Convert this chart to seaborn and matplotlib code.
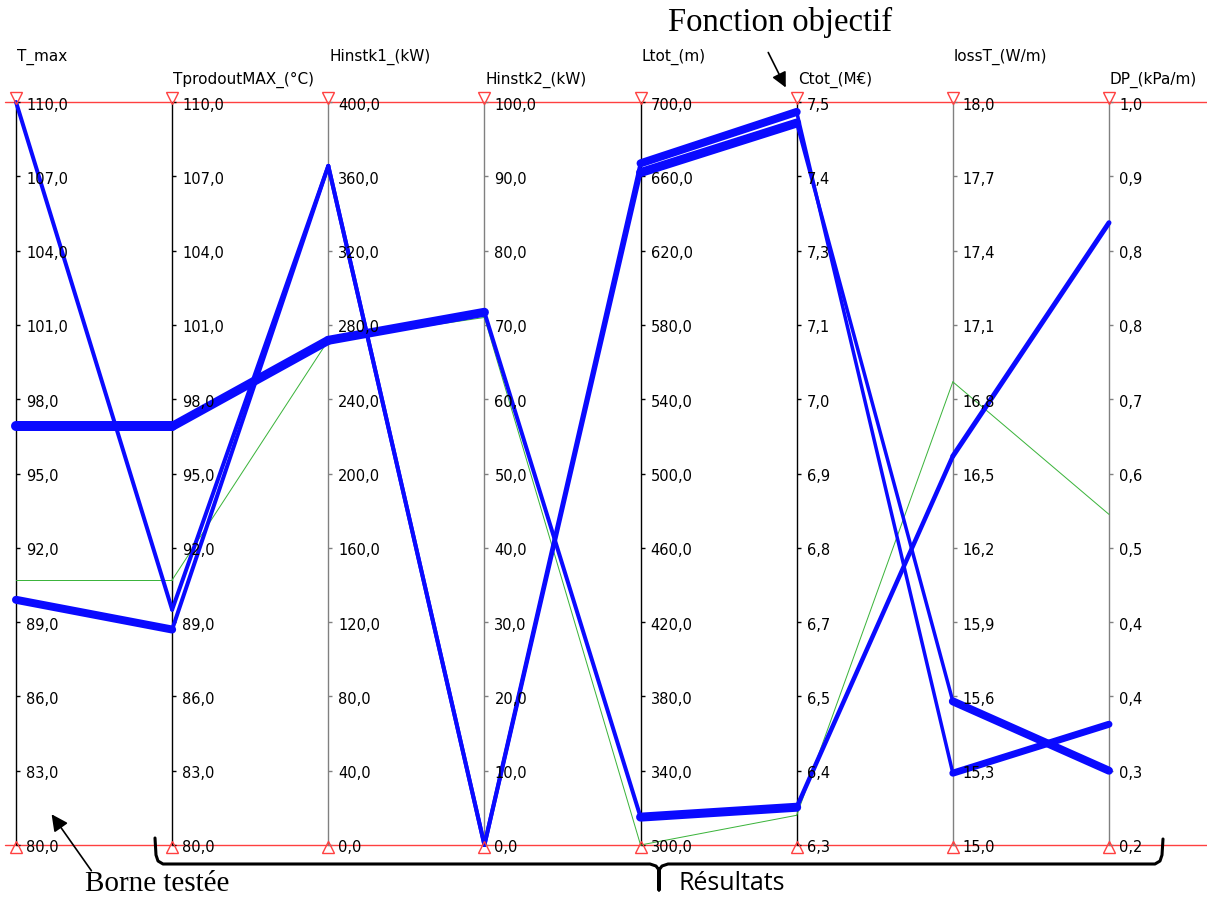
import numpy as np
import matplotlib
matplotlib.use("Agg")
import matplotlib.pyplot as plt
import seaborn as sns

sns.set_style("white")
plt.rcParams['font.family'] = ['DejaVu Sans']
plt.rcParams['text.color'] = 'black'

# axes of the parallel plot
axis_names = ["T_max", "TprodoutMAX_(°C)", "Hinstk1_(kW)", "Hinstk2_(kW)",
              "Ltot_(m)", "Ctot_(M€)", "lossT_(W/m)", "DP_(kPa/m)"]
axis_min = [80.0, 80.0, 0.0, 0.0, 300.0, 6.3, 15.0, 0.2]
axis_max = [110.0, 110.0, 400.0, 100.0, 700.0, 7.5, 18.0, 1.0]

# tick labels, top to bottom
ticks_tmax = ["110,0", "107,0", "104,0", "101,0", "98,0", "95,0", "92,0", "89,0", "86,0", "83,0", "80,0"]
ticks_tprod = ["110,0", "107,0", "104,0", "101,0", "98,0", "95,0", "92,0", "89,0", "86,0", "83,0", "80,0"]
ticks_h1 = ["400,0", "360,0", "320,0", "280,0", "240,0", "200,0", "160,0", "120,0", "80,0", "40,0", "0,0"]
ticks_h2 = ["100,0", "90,0", "80,0", "70,0", "60,0", "50,0", "40,0", "30,0", "20,0", "10,0", "0,0"]
ticks_ltot = ["700,0", "660,0", "620,0", "580,0", "540,0", "500,0", "460,0", "420,0", "380,0", "340,0", "300,0"]
ticks_ctot = ["7,5", "7,4", "7,3", "7,1", "7,0", "6,9", "6,8", "6,7", "6,5", "6,4", "6,3"]
ticks_loss = ["18,0", "17,7", "17,4", "17,1", "16,8", "16,5", "16,2", "15,9", "15,6", "15,3", "15,0"]
ticks_dp = ["1,0", "0,9", "0,8", "0,8", "0,7", "0,6", "0,5", "0,4", "0,4", "0,3", "0,2"]
tick_labels = [ticks_tmax, ticks_tprod, ticks_h1, ticks_h2, ticks_ltot, ticks_ctot, ticks_loss, ticks_dp]

# designs (one value per axis)
design_a = [110.0, 89.5, 365.6, 0.0, 667.0, 7.484, 15.29, 0.33]
design_b = [96.9, 96.9, 271.7, 71.7, 315.0, 6.361, 16.57, 0.87]
design_c = [89.9, 88.7, 365.6, 0.0, 662.0, 7.466, 15.58, 0.28]
design_g = [90.7, 90.7, 271.7, 71.0, 300.0, 6.348, 16.87, 0.556]

# apparent stroke width of each segment (px)
width_a = [4, 4, 4, 4, 8, 3.5, 7]
width_b = [10, 9, 9, 4, 9, 4.5, 5]
width_c = [8, 4, 4, 4, 9, 3.5, 8]
width_g = [1, 1, 1, 1, 1, 1, 1]

axis_colors = ["black", "black", "#808080", "#808080", "black", "black", "#808080", "#808080"]
BLUE = "#0a0aff"
GREEN = "#3cb43c"
RED = "#ff4040"

W, H = 1207, 899
X0, XU = 16, 156.14      # px of first axis, px between axes
YT, YB = 102, 845        # px of top / bottom of axes
YU = YB - YT

fig = plt.figure(figsize=(W / 100, H / 100), dpi=100)
ax = fig.add_axes([0, 0, 1, 1])
ax.set_xlim(-X0 / XU, (W - X0) / XU)
ax.set_ylim(-(H - YB) / YU, 1 + YT / YU)
ax.set_axis_off()


def norm(vals):
    return [(v - lo) / (hi - lo) for v, lo, hi in zip(vals, axis_min, axis_max)]


n = len(axis_names)

# red bounds
ax.axhline(1, xmin=5 / W, xmax=1, color=RED, lw=1, zorder=1)
ax.axhline(0, xmin=5 / W, xmax=1, color=RED, lw=1, zorder=1)

# vertical axes, ticks and labels
tick_pos = np.linspace(1, 0, 11)
for i in range(n):
    ax.vlines(i, 0, 1, colors=axis_colors[i], lw=1, zorder=2)
    ax.hlines(tick_pos, i, i + 4 / XU, colors=axis_colors[i], lw=1, zorder=2)
    for t, lab in zip(tick_pos, tick_labels[i]):
        ax.text(i + 10 / XU, t - 3 / YU, lab, fontsize=10.5, va="center", ha="left", zorder=5)
    row = 57 if i % 2 == 0 else 80
    ax.text(i + 1 / XU, 1 + (YT - row) / YU, axis_names[i], fontsize=11, va="center", ha="left")

# polylines
designs = [(design_g, width_g, GREEN, 3), (design_b, width_b, BLUE, 4),
           (design_a, width_a, BLUE, 4), (design_c, width_c, BLUE, 4)]
for vals, widths, color, z in designs:
    ys = norm(vals)
    for i in range(n - 1):
        sns.lineplot(x=[i, i + 1], y=[ys[i], ys[i + 1]], ax=ax, color=color,
                     linewidth=widths[i] * 0.72, estimator=None, sort=False,
                     legend=False, solid_capstyle="round", zorder=z)

# bound markers
xs = np.arange(n)
ax.plot(xs, np.full(n, 1 + 4 / YU), ls="none", marker="v", ms=8, mfc="none", mec=RED, mew=1, zorder=6)
ax.plot(xs, np.full(n, -2 / YU), ls="none", marker="^", ms=8, mfc="none", mec=RED, mew=1, zorder=6)
ax.set_xlabel("")
ax.set_ylabel("")


# annotations (figure pixel coords, origin top-left)
def fp(px, py):
    return (px, H - py)


fig.text(780 / W, 1 - 22 / H, "Fonction objectif", family="Liberation Serif",
         fontsize=23.5, ha="center", va="center")
ax.annotate("", xy=fp(787, 90), xycoords="figure pixels", xytext=fp(767, 50),
            textcoords="figure pixels",
            arrowprops=dict(arrowstyle="-|>,head_length=0.9,head_width=0.45", color="black", lw=1.2))

fig.text(157 / W, 1 - 884 / H, "Borne testée", family="Liberation Serif",
         fontsize=21, ha="center", va="center")
ax.annotate("", xy=fp(50, 812), xycoords="figure pixels", xytext=fp(93, 873),
            textcoords="figure pixels",
            arrowprops=dict(arrowstyle="-|>,head_length=1.0,head_width=0.5", color="black", lw=1.2))

fig.text(732 / W, 1 - 884 / H, "Résultats", family="Open Sans",
         fontsize=18, ha="center", va="center")

# curly brace under the results
bx = [155, 156, 158, 163, 650, 656, 659, 659, 659, 662, 668, 1155, 1160, 1162, 1163]
by = [838, 855, 861, 864, 864, 866, 870, 890, 870, 866, 864, 864, 861, 855, 839]
pts = [fp(x, y) for x, y in zip(bx, by)]
fig.add_artist(plt.Line2D([p[0] / W for p in pts], [p[1] / H for p in pts],
                          transform=fig.transFigure, color="black", lw=2.2,
                          solid_joinstyle="round", solid_capstyle="round"))

fig.savefig("out.png", dpi=100)
